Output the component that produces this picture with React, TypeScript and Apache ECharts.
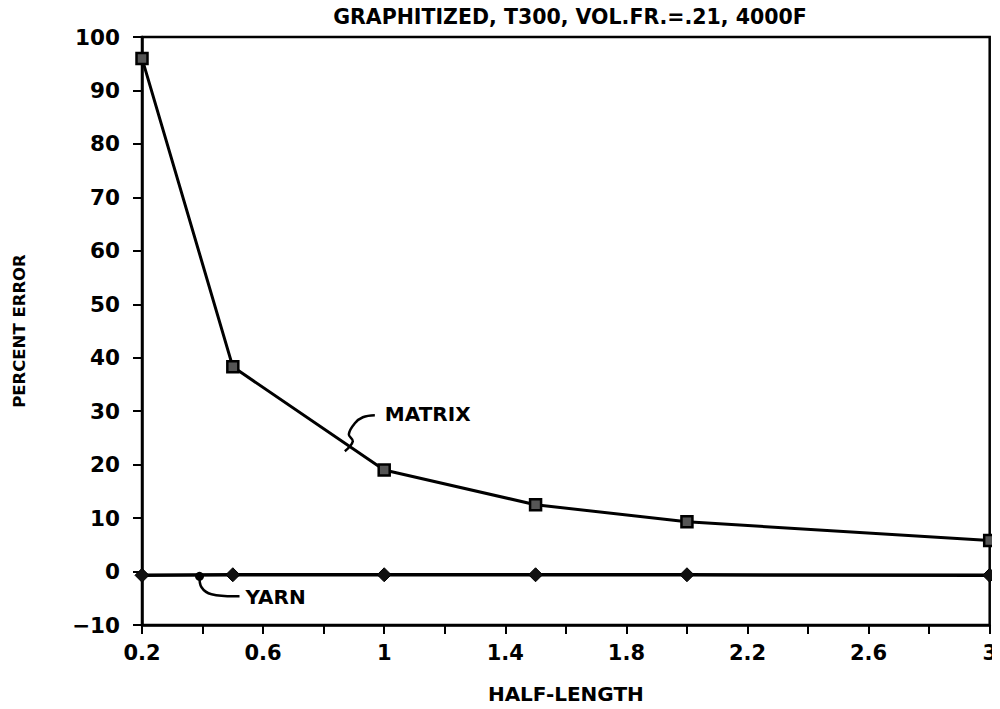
import React, { useEffect, useRef } from "react";
import * as echarts from "echarts";

const TITLE = "GRAPHITIZED, T300, VOL.FR.=.21, 4000F";
const X_NAME = "HALF-LENGTH";
const Y_NAME = "PERCENT ERROR";
const matrixX = [0.2, 0.5, 1, 1.5, 2, 3];
const matrixY = [96, 38.3, 19.0, 12.5, 9.3, 5.8];
const yarnX = [0.2, 0.5, 1, 1.5, 2, 3];
const yarnY = [-0.7, -0.6, -0.6, -0.6, -0.6, -0.7];
const xLabelValues = [0.2, 0.6, 1, 1.4, 1.8, 2.2, 2.6, 3];

const FONT = "DejaVu Sans";

export default function App() {
  const ref = useRef<HTMLDivElement>(null);
  useEffect(() => {
    if (!ref.current) return;
    const chart = echarts.init(ref.current, undefined, { renderer: "svg" });
    const textStyle = { fontFamily: FONT, fontWeight: "bold" as const, color: "#000" };
    chart.setOption({
      animation: false,
      backgroundColor: "#fff",
      title: {
        text: TITLE,
        left: 565,
        top: 1,
        textAlign: "center",
        textStyle: { ...textStyle, fontSize: 20.5 },
      },
      grid: {
        left: 142,
        right: 10,
        top: 37,
        bottom: 83,
        show: true,
        borderColor: "#000",
        borderWidth: 2.5,
        backgroundColor: "transparent",
      },
      xAxis: {
        type: "value",
        min: 0.2,
        max: 3,
        interval: 0.2,
        name: X_NAME,
        nameLocation: "middle",
        nameGap: 59,
        nameTextStyle: { ...textStyle, fontSize: 20 },
        axisLine: { show: true, onZero: false, lineStyle: { color: "#000", width: 2.5 } },
        axisTick: { show: true, inside: false, length: 9, lineStyle: { color: "#000", width: 2 } },
        splitLine: { show: false },
        axisLabel: {
          ...textStyle,
          fontSize: 21,
          margin: 17,
          formatter: (v: number) => {
            const hit = xLabelValues.find((t) => Math.abs(t - v) < 1e-6);
            return hit === undefined ? "" : String(hit);
          },
        },
      },
      yAxis: {
        type: "value",
        min: -10,
        max: 100,
        interval: 10,
        name: Y_NAME,
        nameLocation: "middle",
        nameGap: 114,
        nameRotate: 90,
        nameTextStyle: { ...textStyle, fontSize: 16.5 },
        axisLine: { show: true, onZero: false, lineStyle: { color: "#000", width: 2.5 } },
        axisTick: { show: true, inside: false, length: 9, lineStyle: { color: "#000", width: 2 } },
        splitLine: { show: false },
        axisLabel: {
          ...textStyle,
          fontSize: 21.5,
          margin: 22,
          formatter: (v: number) => (v < 0 ? "\u2212" + Math.abs(v) : String(v)),
        },
      },
      series: [
        {
          name: "MATRIX",
          type: "line",
          data: matrixX.map((x, i) => [x, matrixY[i]]),
          symbol: "rect",
          symbolSize: 11,
          lineStyle: { color: "#000", width: 3 },
          itemStyle: { color: "#555", borderColor: "#000", borderWidth: 2.5 },
          z: 3,
        },
        {
          name: "YARN",
          type: "line",
          data: yarnX.map((x, i) => [x, yarnY[i]]),
          symbol: "diamond",
          symbolSize: 14,
          lineStyle: { color: "#000", width: 3.5 },
          itemStyle: { color: "#111", borderColor: "#000", borderWidth: 1 },
          z: 3,
        },
      ],
    });

    const m = chart.convertToPixel({ gridIndex: 0 }, [0.87, 22.5]) as number[];
    const y = chart.convertToPixel({ gridIndex: 0 }, [0.39, -0.7]) as number[];
    chart.setOption({
      graphic: [
        {
          type: "polyline",
          shape: {
            points: [
              [m[0], m[1]],
              [m[0] + 8, m[1] - 10],
              [m[0] + 4, m[1] - 17],
              [m[0] + 10, m[1] - 28],
              [m[0] + 18, m[1] - 34],
              [m[0] + 30, m[1] - 36],
            ],
            smooth: 0.4,
          },
          style: { stroke: "#000", lineWidth: 2.5, fill: null },
        },
        {
          type: "text",
          x: m[0] + 40,
          y: m[1] - 37,
          style: { text: "MATRIX", font: "bold 20px " + FONT, fill: "#000", verticalAlign: "middle" },
        },
        {
          type: "polyline",
          shape: {
            points: [
              [y[0], y[1]],
              [y[0] + 2, y[1] + 12],
              [y[0] + 12, y[1] + 19],
              [y[0] + 40, y[1] + 21],
            ],
            smooth: 0.4,
          },
          style: { stroke: "#000", lineWidth: 2.5, fill: null },
        },
        {
          type: "circle",
          shape: { cx: y[0], cy: y[1] + 1, r: 4.5 },
          style: { fill: "#000" },
        },
        {
          type: "text",
          x: y[0] + 46,
          y: y[1] + 22,
          style: { text: "YARN", font: "bold 20px " + FONT, fill: "#000", verticalAlign: "middle" },
        },
      ],
    });
    return () => chart.dispose();
  }, []);
  return <div ref={ref} style={{ width: 1000, height: 709, margin: -8 }} />;
}
